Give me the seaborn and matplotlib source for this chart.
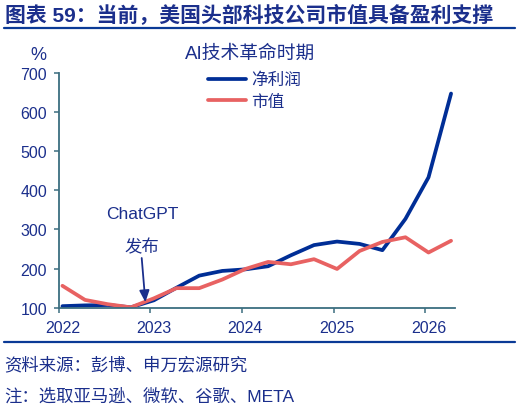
import pandas as pd
import matplotlib.pyplot as plt
import matplotlib.dates as mdates
import matplotlib.transforms as mtransforms
from matplotlib.lines import Line2D
import seaborn as sns

sns.set_style("white")
plt.rcParams['font.family'] = ['Liberation Sans', 'Noto Sans CJK SC']
plt.rcParams['axes.unicode_minus'] = False

navy = "#1B2F8C"
spine_c = "#3C6E80"

# quarterly points, indexed to 100
quarters = ["2022-01-15", "2022-04-15", "2022-07-15", "2022-10-15",
            "2023-01-15", "2023-04-15", "2023-07-15", "2023-10-15",
            "2024-01-15", "2024-04-15", "2024-07-15", "2024-10-15",
            "2025-01-15", "2025-04-15", "2025-07-15", "2025-10-15",
            "2026-01-15", "2026-04-15"]
net_profit = [104, 106, 107, 101, 119, 151, 182, 194, 198, 206, 234, 260,
              269, 263, 247, 327, 433, 647]
market_cap = [156, 120, 109, 101, 124, 150, 150, 172, 199, 217, 211, 224,
              199, 245, 268, 280, 241, 271]
series_names = ["净利润", "市值"]
line_colors = ["#002E96", "#E86262"]
year_ticks = ["2022-01-01", "2023-01-01", "2024-01-01", "2025-01-01", "2026-01-01"]

df = pd.DataFrame({
    "date": pd.to_datetime(quarters * 2),
    "value": net_profit + market_cap,
    "series": [series_names[0]] * len(quarters) + [series_names[1]] * len(quarters),
})

fig = plt.figure(figsize=(5.31, 4.10), dpi=100)
ax = fig.add_axes([0.111, 0.247, 0.746, 0.573])

sns.lineplot(data=df, x="date", y="value", hue="series", hue_order=series_names,
             palette=line_colors, linewidth=2.7, ax=ax, legend=False)

ax.set_ylim(100, 700)
ax.set_yticks(range(100, 701, 100))
ax.set_xlim(pd.Timestamp("2022-01-01"), pd.Timestamp("2026-05-01"))
ax.set_xticks(pd.to_datetime(year_ticks))
ax.xaxis.set_major_formatter(mdates.DateFormatter("%Y"))
ax.set_xlabel("")
ax.set_ylabel("")

for s in ["top", "right"]:
    ax.spines[s].set_visible(False)
for s in ["left", "bottom"]:
    ax.spines[s].set_color(spine_c)
    ax.spines[s].set_linewidth(1.3)
ax.tick_params(axis="both", direction="out", length=3.6, width=1.1, color=spine_c,
               labelcolor=navy, labelsize=11.5, pad=5)
ax.tick_params(axis="y", left=True)
ax.tick_params(axis="x", bottom=True)
ax.grid(False)

# year labels sit a little right of their ticks in the reference
shift = mtransforms.ScaledTranslation(3.5 / 100, 0, fig.dpi_scale_trans)
for lab in ax.get_xticklabels():
    lab.set_transform(lab.get_transform() + shift)

# legend
handles = [Line2D([], [], color=c, lw=2.7) for c in line_colors]
ax.legend(handles, series_names, loc="upper left", bbox_to_anchor=(0.392, 0.822),
          bbox_transform=fig.transFigure, frameon=False, fontsize=12,
          handlelength=2.3, handletextpad=0.3, labelspacing=0.4,
          borderpad=0, borderaxespad=0, labelcolor=navy)

# ChatGPT annotation
fig.text(142 / 531, 1 - 215 / 410, "ChatGPT", ha="center", va="center",
         fontsize=12.5, color=navy)
fig.text(142 / 531, 1 - 247 / 410, "发布", ha="center", va="center",
         fontsize=12.5, color=navy)
ax.annotate("", xy=(pd.Timestamp("2022-12-12"), 114), xycoords="data",
            xytext=(141.7, 410 - 259), textcoords="figure pixels",
            arrowprops=dict(arrowstyle="-|>,head_width=0.3,head_length=0.7",
                            color=navy, lw=1.3, shrinkA=0, shrinkB=0))

fig.text(38 / 531, 1 - 55 / 410, "%", ha="center", va="center", fontsize=13, color=navy)
fig.text(250 / 531, 1 - 54 / 410, "AI技术革命时期", ha="center", va="center",
         fontsize=13.5, color=navy)

# header and footer
fig.text(5 / 531, 1 - 14.5 / 410, "图表 59：当前，美国头部科技公司市值具备盈利支撑",
         ha="left", va="center", fontsize=15, fontweight="bold", color=navy)
fig.add_artist(Line2D([4 / 531, 515 / 531], [1 - 29 / 410, 1 - 29 / 410],
                      color="#0A3A96", lw=1.6, transform=fig.transFigure))
fig.add_artist(Line2D([4 / 531, 515 / 531], [1 - 342.7 / 410, 1 - 342.7 / 410],
                      color="#0A3A96", lw=1.6, transform=fig.transFigure))
fig.text(4 / 531, 1 - 365 / 410, "资料来源：彭博、申万宏源研究", ha="left", va="center",
         fontsize=12.5, color=navy)
fig.text(4 / 531, 1 - 396 / 410, "注：选取亚马逊、微软、谷歌、META", ha="left", va="center",
         fontsize=12.5, color=navy)

fig.savefig("out.png", dpi=100)
